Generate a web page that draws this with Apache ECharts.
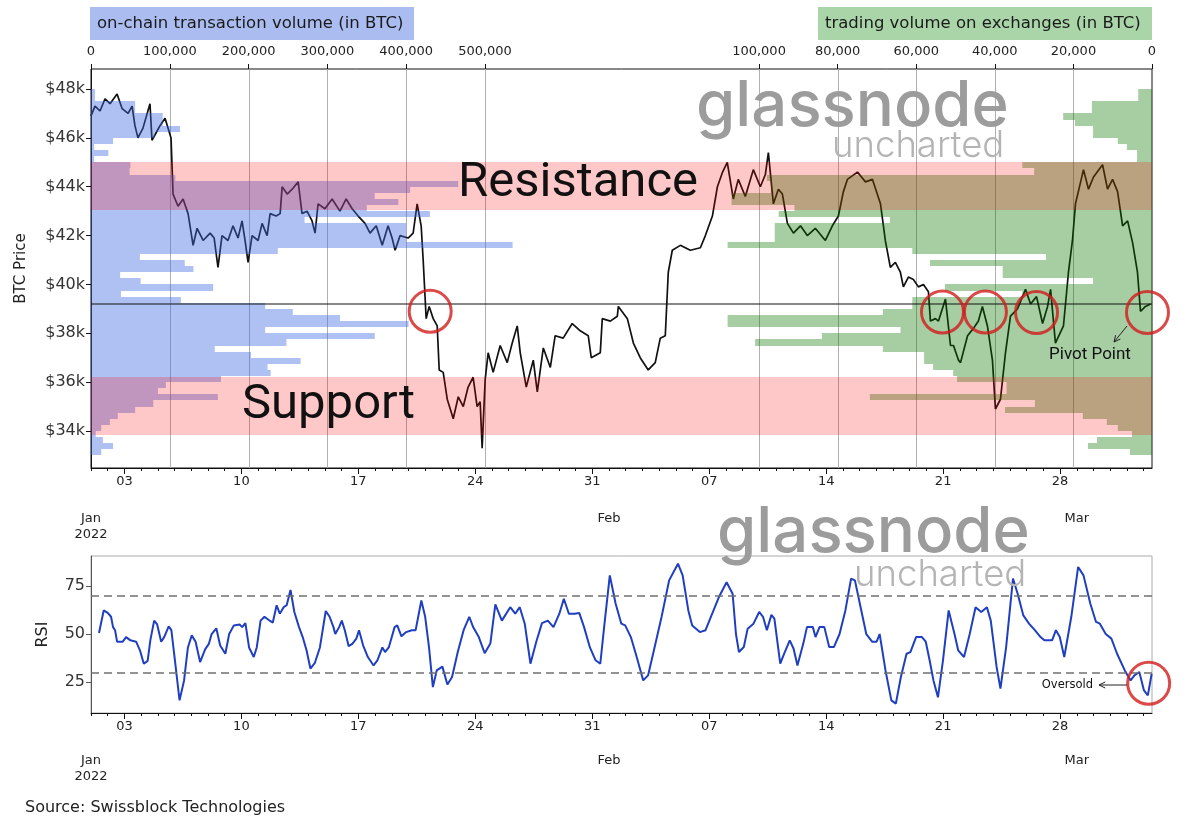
<!DOCTYPE html>
<html><head><meta charset="utf-8">
<script src="https://cdn.jsdelivr.net/npm/echarts@6/dist/echarts.min.js"></script>
<style>html,body{margin:0;padding:0;background:#fff}#c{width:1200px;height:840px}</style>
</head><body><div id="c"></div>
<script>
// ---------- data ----------
const startDate = '2022-01-01';
const weekTicks = ['2022-01-03','2022-01-10','2022-01-17','2022-01-24','2022-01-31','2022-02-07','2022-02-14','2022-02-21','2022-02-28'];
const monthTicks = ['2022-01-01','2022-02-01','2022-03-01'];
const monthLabels = ['Jan\n2022','Feb','Mar'];
const priceTicks = [34000,36000,38000,40000,42000,44000,46000,48000];
const rsiTicks = [25,50,75];
const onchainTicks = [0,100000,200000,300000,400000,500000];
const exchangeTicks = [0,20000,40000,60000,80000,100000];

// volume profile bins, from the highest price bin downwards
const volumeBinTop = 48000;
const volumeBinSize = 250;
// on-chain transaction volume per bin (thousand BTC)
const onchainVolume = [5,5,56,56,91,91,113,81,28,4,22,4,50,49,107,466,405,360,390,350,430,271,400,400,400,535,237,62,119,130,37,63,155,38,114,221,256,316,403,221,360,248,157,203,266,224,228,165,95,85,161,79,56,34,24,13,6,15,28,13];
// trading volume on exchanges per bin (thousand BTC)
const exchangeVolume = [3.5,3.5,15.3,15.3,22.6,19.6,15,15,8.7,6.4,3.8,3.8,33,30,98,97,97,107,107,91,95,66.7,96,96,96,108,61,27,56.5,38,38,15,52.7,33,61,61,68.5,108,108,64,84,101,68.5,58,58,55.7,50.6,49.6,37,37,71.8,29.8,37.4,17.6,11.5,8.7,5.1,14,16.3,5.6];

const resistanceBand = [43050, 45000];
const supportBand = [33850, 36200];
const pivotLevel = 39200;
const rsiLevels = [70, 30];
// [days since Jan 1, price]
const pivotCircles = [[20.3,38900],[50.96,38870],[53.53,38870],[56.59,38850],[63.23,38850]];
const oversoldCircle = [[63.3,24.3]];

// BTC price: [days since Jan 1 2022, USD]
const btcPrice = [[0,46900],[0.24,47300],[0.54,47100],[0.84,47600],[1.14,47400],[1.56,47800],[1.86,47200],[2.22,47000],[2.46,47300],[2.63,46500],[2.81,46000],[3.11,46400],[3.53,47400],[3.65,45900],[3.89,46200],[4.13,46500],[4.43,46800],[4.61,46400],[4.79,46000],[4.91,43700],[5.21,43200],[5.51,43500],[5.81,42900],[6.11,41600],[6.35,42300],[6.71,41800],[7.13,42100],[7.37,41900],[7.6,40700],[7.84,42000],[8.2,41800],[8.5,42400],[8.8,41900],[9.04,42600],[9.22,41800],[9.4,40900],[9.64,42000],[10,41800],[10.24,42500],[10.54,42000],[10.72,42900],[11.08,42800],[11.32,42900],[11.44,44000],[11.74,43700],[12.04,43900],[12.4,44200],[12.63,42900],[12.93,43000],[13.23,42600],[13.41,42100],[13.59,43300],[14,43100],[14.43,43500],[14.9,43000],[15.27,43500],[15.63,43100],[15.99,42800],[16.4,42500],[16.7,42100],[17.07,42400],[17.43,41600],[17.78,42400],[18.02,41900],[18.2,41400],[18.5,42000],[18.98,41900],[19.28,42100],[19.52,43300],[19.76,42400],[19.88,41000],[20.06,38600],[20.24,39100],[20.48,38600],[20.72,38300],[20.84,36500],[21.08,36400],[21.32,35300],[21.68,34500],[21.98,35400],[22.28,35000],[22.57,35800],[22.87,36200],[23.11,35000],[23.29,35200],[23.41,33300],[23.59,36100],[23.77,37200],[24.07,36400],[24.49,37500],[24.91,36800],[25.21,37600],[25.51,38300],[25.69,37200],[26.05,35800],[26.47,36900],[26.71,35600],[27.07,37400],[27.49,36600],[27.78,37900],[28.26,37800],[28.8,38400],[29.28,38100],[29.76,37900],[29.94,37000],[30.48,37200],[30.6,38600],[31.08,38500],[31.5,38700],[31.56,39100],[32.1,38600],[32.46,37600],[32.87,37000],[33.35,36500],[33.77,36800],[34.07,37800],[34.37,37900],[34.55,40500],[34.79,41400],[35.27,41600],[35.87,41400],[36.47,41500],[36.77,42000],[37.19,42800],[37.49,44000],[37.8,44600],[38.08,45000],[38.44,43500],[38.74,44300],[39.16,43600],[39.64,44700],[40.06,44000],[40.36,44500],[40.54,45400],[40.84,43300],[41.14,43900],[41.38,43700],[41.68,42500],[42.04,42100],[42.46,42400],[42.87,42000],[43.35,42300],[43.95,41800],[44.37,42400],[44.73,42800],[45.03,43800],[45.27,44300],[45.87,44600],[46.35,44200],[46.77,44300],[47.25,43300],[47.54,41800],[47.84,40700],[48.14,40900],[48.44,40500],[48.62,39900],[48.92,40300],[49.22,40200],[49.52,39900],[49.82,40000],[50.12,39700],[50.24,38500],[50.54,38600],[50.72,38500],[51.14,39400],[51.44,37500],[51.62,37500],[51.92,36900],[52.04,36800],[52.46,37900],[52.81,38200],[53.11,38500],[53.35,39100],[53.65,38300],[53.95,36900],[54.13,34900],[54.43,35300],[54.73,37200],[55.03,38700],[55.45,39000],[55.93,39800],[56.23,39200],[56.59,39500],[56.95,38400],[57.25,39100],[57.43,39800],[57.72,37600],[58.2,38300],[58.5,40500],[58.74,41800],[58.92,43300],[59.4,44700],[59.7,43900],[60,44400],[60.54,44900],[60.84,43900],[61.14,44300],[61.44,43800],[61.74,42400],[62.04,42600],[62.34,41700],[62.63,40500],[62.81,38900],[63.11,39100],[63.41,39200]];

// RSI: [days since Jan 1 2022, value]
const rsiValues = [[0.48,50.5],[0.76,62.3],[1.0,61],[1.2,59],[1.32,53.6],[1.44,52],[1.56,46],[1.9,46],[2.1,48.4],[2.36,46.7],[2.7,46],[2.93,41.5],[3.16,34.5],[3.39,36],[3.55,46.7],[3.78,57],[3.96,55],[4.2,46],[4.38,48.4],[4.65,54],[4.81,52],[5.0,38],[5.3,15.4],[5.57,25.8],[5.8,43],[6.03,49.3],[6.26,46],[6.53,35.4],[6.83,42],[7.06,45],[7.22,50],[7.5,53],[7.73,44],[8.04,39.7],[8.27,50],[8.55,54.5],[8.89,55],[9.05,53.6],[9.24,55.7],[9.46,43],[9.74,38],[9.92,43],[10.15,57],[10.38,59],[10.72,56.8],[10.88,56],[11.11,65],[11.3,60.6],[11.53,64],[11.71,65],[11.94,73],[12.17,61.5],[12.45,53.6],[12.67,48.4],[12.9,41.5],[13.13,32],[13.4,35],[13.7,43],[14.05,62],[14.28,59],[14.51,53.6],[14.62,50],[14.85,53.6],[15.01,57],[15.19,52],[15.42,43.6],[15.65,45],[15.88,47.6],[16.04,52],[16.29,44],[16.57,38],[16.91,33.6],[17.14,36.3],[17.44,43],[17.6,40.6],[17.83,43.2],[18.17,53.6],[18.33,54.5],[18.58,48.8],[18.86,51],[19.2,52],[19.43,52],[19.77,67.5],[20.0,59],[20.23,43],[20.46,22.3],[20.69,31],[21.03,33],[21.33,23.7],[21.61,27.6],[21.95,40.6],[22.3,52],[22.64,59],[22.87,53.6],[23.21,48.4],[23.56,40],[23.9,45],[24.2,65.5],[24.59,57],[25.09,64],[25.39,60.6],[25.66,64],[25.96,55.4],[26.3,34.5],[26.65,46],[26.99,55.7],[27.34,57],[27.68,53.6],[28.03,60.6],[28.3,68.4],[28.6,60.6],[28.94,60.6],[29.22,61],[29.51,53.6],[29.86,43],[30.2,36.3],[30.48,34.5],[30.71,53.6],[31.05,80.6],[31.4,65.8],[31.74,55.4],[31.97,54.5],[32.31,48.4],[32.66,38],[33.05,25.8],[33.34,28.4],[33.69,41.5],[34.15,59],[34.6,78],[35.13,86.7],[35.41,80.6],[35.75,62.3],[35.98,54.5],[36.44,51],[36.78,52],[37.1,59],[37.58,69.3],[38.04,77],[38.4,71],[38.6,50],[38.78,40.6],[39.07,43.2],[39.3,52.8],[39.65,55.4],[39.99,61.5],[40.22,59],[40.45,52],[40.72,60],[40.9,58],[41.25,34.5],[41.48,39.7],[41.82,46.7],[42.05,42.3],[42.28,33.6],[42.63,45],[42.85,53.6],[43.2,53.6],[43.36,48.4],[43.6,53.6],[43.89,53.6],[44.18,43.2],[44.46,43.2],[44.8,50],[45.15,62.3],[45.49,78.9],[45.72,78],[46.06,64],[46.4,50],[46.75,46],[47.02,46],[47.2,50],[47.55,31],[47.9,15.4],[48.17,13.7],[48.47,27.6],[48.81,39.7],[49.04,40.6],[49.38,48.4],[49.73,48.4],[49.96,46],[50.19,36.3],[50.42,25.8],[50.69,17],[50.99,36.3],[51.33,62.3],[51.68,50],[51.9,41.5],[52.25,38],[52.59,50],[52.94,64],[53.28,61.5],[53.62,64],[53.85,57],[54.2,32.8],[54.43,21.5],[54.77,43.2],[55.18,78.9],[55.46,71],[55.8,59.7],[56.14,55.4],[56.49,52],[56.83,48.4],[57.06,46.7],[57.52,46.7],[57.75,52],[57.98,48.4],[58.25,38],[58.67,59],[59.08,85],[59.4,80.6],[59.81,65.8],[60.15,56.3],[60.38,55.4],[60.73,50],[61.07,47.6],[61.41,39.7],[61.87,31],[62.22,25.8],[62.45,28.4],[62.74,30.2],[63.02,20.6],[63.25,18],[63.48,29.3]];

// ---------- chart ----------
const T0 = Date.parse(startDate);
const DAY = 86400000;
const t = d => T0 + d * DAY;
const xMin = t(0), xMax = t(63.5);
const yMin = 32485, yMax = 48820;
const weekVals = weekTicks.map(s => Date.parse(s));
const monthVals = monthTicks.map(s => Date.parse(s));
const dayVals = Array.from({length: 64}, (_, i) => t(i));
const FONT = 'DejaVu Sans';
const dd = v => String(new Date(v).getUTCDate()).padStart(2, '0');
const monthFmt = v => { const i = monthVals.indexOf(v); return i >= 0 ? monthLabels[i] : ''; };
const fmtNum = v => v.toLocaleString('en-US');

const blueData = onchainVolume.map((v, i) => [v * 1000, volumeBinTop - i * volumeBinSize, volumeBinTop - (i + 1) * volumeBinSize]);
const greenData = exchangeVolume.map((v, i) => [v * 1000, volumeBinTop - i * volumeBinSize, volumeBinTop - (i + 1) * volumeBinSize]);

function histRender(fill) {
  return function (params, api) {
    const p0 = api.coord([0, api.value(1)]);
    const p1 = api.coord([api.value(0), api.value(2)]);
    const y0 = Math.round(p0[1]), y1 = Math.round(p1[1]);
    return {type: 'rect', shape: {x: Math.min(p0[0], p1[0]), y: y0, width: Math.abs(p1[0] - p0[0]), height: y1 - y0}, style: {fill: fill}};
  };
}
function gridRender(params, api) {
  const cs = params.coordSys;
  const x = Math.round(api.coord([api.value(0), yMin])[0]) + 0.5;
  return {type: 'line', shape: {x1: x, y1: cs.y, x2: x, y2: cs.y + cs.height}, style: {stroke: '#b0b0b0', lineWidth: 1}};
}
function bandRender(params, api) {
  const cs = params.coordSys;
  const yTop = Math.round(api.coord([xMin, api.value(2)])[1]);
  const yBot = Math.round(api.coord([xMin, api.value(1)])[1]);
  return {type: 'rect', shape: {x: cs.x, y: yTop, width: cs.width, height: yBot - yTop}, style: {fill: 'rgba(255,0,0,0.215)'}};
}
function hlineRender(params, api) {
  const cs = params.coordSys;
  const y = api.coord([xMin, api.value(1)])[1];
  return {type: 'line', shape: {x1: cs.x, y1: y, x2: cs.x + cs.width, y2: y}, style: {stroke: '#111', lineWidth: 1.2}};
}

function weekAxis(gridIndex, margin) {
  return {gridIndex, type: 'value', min: xMin, max: xMax, position: 'bottom',
    axisLine: {show: true, lineStyle: {color: '#111', width: 1}},
    axisTick: {show: true, customValues: weekVals, length: 6, lineStyle: {color: '#111'}},
    axisLabel: {customValues: weekVals, formatter: dd, fontSize: 13, color: '#222', fontFamily: FONT, margin: margin},
    splitLine: {show: false}};
}
function monthAxis(gridIndex, margin) {
  return {gridIndex, type: 'value', min: xMin, max: xMax, position: 'bottom',
    axisLine: {show: false},
    axisTick: {show: true, customValues: dayVals, length: 3, lineStyle: {color: '#111'}},
    axisLabel: {customValues: monthVals, formatter: monthFmt, fontSize: 13, color: '#222', fontFamily: FONT, margin: margin, lineHeight: 16},
    splitLine: {show: false}};
}

function arrowPts(x1, y1, x2, y2) {
  const a = Math.atan2(y2 - y1, x2 - x1), L = 7, w = 0.45;
  return [[x2 - L * Math.cos(a - w), y2 - L * Math.sin(a - w)], [x2, y2], [x2 - L * Math.cos(a + w), y2 - L * Math.sin(a + w)]];
}

const circleStyle = {color: 'rgba(0,0,0,0)', borderColor: '#d21c1c', borderWidth: 3};

const chart = echarts.init(document.getElementById('c'), null, {renderer: 'canvas'});
chart.setOption({
  animation: false,
  backgroundColor: '#fff',
  grid: [
    {left: 91, top: 69, width: 1061, height: 399, show: true, borderColor: '#111', borderWidth: 1, backgroundColor: 'transparent'},
    {left: 91, top: 556, width: 1061, height: 157, show: true, borderColor: '#aaa', borderWidth: 1, backgroundColor: 'transparent'}
  ],
  xAxis: [
    weekAxis(0, 7),
    monthAxis(0, 43),
    {gridIndex: 0, type: 'value', position: 'top', min: 0, max: 1346400,
      axisLine: {show: false}, axisTick: {show: true, customValues: onchainTicks, length: 5, lineStyle: {color: '#111'}},
      axisLabel: {customValues: onchainTicks, formatter: fmtNum, fontSize: 13, color: '#222', fontFamily: FONT, margin: 11},
      splitLine: {show: false}},
    {gridIndex: 0, type: 'value', position: 'top', inverse: true, min: 0, max: 270000,
      axisLine: {show: false}, axisTick: {show: true, customValues: exchangeTicks, length: 5, lineStyle: {color: '#111'}},
      axisLabel: {customValues: exchangeTicks, formatter: fmtNum, fontSize: 13, color: '#222', fontFamily: FONT, margin: 11},
      splitLine: {show: false}},
    weekAxis(1, 7),
    monthAxis(1, 40)
  ],
  yAxis: [
    {gridIndex: 0, type: 'value', min: yMin, max: yMax,
      axisLine: {show: true, lineStyle: {color: '#111'}},
      axisTick: {show: true, customValues: priceTicks, length: 5, lineStyle: {color: '#111'}},
      axisLabel: {customValues: priceTicks, formatter: v => '$' + (v / 1000) + 'k', fontSize: 16, color: '#333', fontFamily: FONT, margin: 6},
      splitLine: {show: false},
      name: 'BTC Price', nameLocation: 'middle', nameGap: 62, nameRotate: 90,
      nameTextStyle: {fontSize: 15, color: '#222', fontFamily: FONT}},
    {gridIndex: 1, type: 'value', min: 8.8, max: 90.7,
      axisLine: {show: true, lineStyle: {color: '#555'}},
      axisTick: {show: true, customValues: rsiTicks, length: 5, lineStyle: {color: '#555'}},
      axisLabel: {customValues: rsiTicks, fontSize: 16, color: '#333', fontFamily: FONT, margin: 6},
      splitLine: {show: false},
      name: 'RSI', nameLocation: 'middle', nameGap: 40, nameRotate: 90,
      nameTextStyle: {fontSize: 16, color: '#222', fontFamily: FONT}}
  ],
  series: [
    {type: 'custom', name: 'grid-left', xAxisIndex: 2, yAxisIndex: 0, z: 1, silent: true,
      data: onchainTicks.filter(v => v > 0).map(v => [v, yMin]), encode: {x: 0, y: 1}, renderItem: gridRender},
    {type: 'custom', name: 'grid-right', xAxisIndex: 3, yAxisIndex: 0, z: 1, silent: true,
      data: exchangeTicks.filter(v => v > 0).map(v => [v, yMin]), encode: {x: 0, y: 1}, renderItem: gridRender},
    {type: 'line', name: 'BTC Price', xAxisIndex: 0, yAxisIndex: 0, z: 2, showSymbol: false, silent: true,
      data: btcPrice.map(p => [t(p[0]), p[1]]), lineStyle: {color: '#111', width: 1.7}},
    {type: 'custom', name: 'on-chain volume', xAxisIndex: 2, yAxisIndex: 0, z: 3, silent: true,
      data: blueData, encode: {x: 0, y: [1, 2]}, renderItem: histRender('rgba(65,105,225,0.42)')},
    {type: 'custom', name: 'exchange volume', xAxisIndex: 3, yAxisIndex: 0, z: 3, silent: true,
      data: greenData, encode: {x: 0, y: [1, 2]}, renderItem: histRender('rgba(10,120,0,0.36)')},
    {type: 'custom', name: 'bands', xAxisIndex: 0, yAxisIndex: 0, z: 4, silent: true,
      data: [[xMin, resistanceBand[0], resistanceBand[1]], [xMin, supportBand[0], supportBand[1]]],
      encode: {x: 0, y: [1, 2]}, renderItem: bandRender},
    {type: 'custom', name: 'pivot', xAxisIndex: 0, yAxisIndex: 0, z: 5, silent: true,
      data: [[xMin, pivotLevel]], encode: {x: 0, y: 1}, renderItem: hlineRender},
    {type: 'scatter', name: 'circles', xAxisIndex: 0, yAxisIndex: 0, z: 6, silent: true,
      data: pivotCircles.map(p => [t(p[0]), p[1]]), symbol: 'circle', symbolSize: 42, itemStyle: circleStyle},
    {type: 'line', name: 'RSI', xAxisIndex: 4, yAxisIndex: 1, z: 3, showSymbol: false, silent: true,
      data: rsiValues.map(p => [t(p[0]), p[1]]), lineStyle: {color: '#1f3fc0', width: 2},
      markLine: {symbol: 'none', silent: true, label: {show: false}, lineStyle: {type: [8, 5], color: '#707070', width: 1.6},
        data: rsiLevels.map(v => ({yAxis: v}))}},
    {type: 'scatter', name: 'oversold', xAxisIndex: 4, yAxisIndex: 1, z: 6, silent: true,
      data: oversoldCircle.map(p => [t(p[0]), p[1]]), symbol: 'circle', symbolSize: 42, itemStyle: circleStyle}
  ],
  graphic: [
    {type: 'rect', shape: {x: 90, y: 7, width: 324, height: 33}, style: {fill: '#abbdf0'}, z: 50},
    {type: 'text', x: 97, y: 23.5, z: 51, style: {text: 'on-chain transaction volume (in BTC)', fontSize: 16.5, fontFamily: FONT, fill: '#1a1a1a', verticalAlign: 'middle'}},
    {type: 'rect', shape: {x: 818, y: 7, width: 334, height: 33}, style: {fill: '#aad5a8'}, z: 50},
    {type: 'text', x: 825, y: 23.5, z: 51, style: {text: 'trading volume on exchanges (in BTC)', fontSize: 16.5, fontFamily: FONT, fill: '#1a1a1a', verticalAlign: 'middle'}},
    {type: 'text', x: 696, y: 107, z: 40, style: {text: 'glassnode', fontSize: 63.5, fontFamily: 'Inter', fontWeight: 500, fill: '#9c9c9c', verticalAlign: 'middle'}},
    {type: 'text', x: 832, y: 146, z: 40, style: {text: 'uncharted', fontSize: 36.5, fontFamily: 'Inter', fontWeight: 300, fill: '#b4b4b4', verticalAlign: 'middle'}},
    {type: 'text', x: 717, y: 533, z: 40, style: {text: 'glassnode', fontSize: 63.5, fontFamily: 'Inter', fontWeight: 500, fill: '#9c9c9c', verticalAlign: 'middle'}},
    {type: 'text', x: 854, y: 575, z: 40, style: {text: 'uncharted', fontSize: 36.5, fontFamily: 'Inter', fontWeight: 300, fill: '#b4b4b4', verticalAlign: 'middle'}},
    {type: 'text', x: 458, y: 184, z: 60, style: {text: 'Resistance', fontSize: 49, fontFamily: 'Roboto', fill: '#111', verticalAlign: 'middle'}},
    {type: 'text', x: 242, y: 406, z: 60, style: {text: 'Support', fontSize: 49, fontFamily: 'Roboto', fill: '#111', verticalAlign: 'middle'}},
    {type: 'text', x: 1090, y: 355, z: 60, style: {text: 'Pivot Point', fontSize: 17, fontFamily: 'Roboto', fill: '#111', align: 'center', verticalAlign: 'middle'}},
    {type: 'polyline', z: 60, shape: {points: [[1127, 326], [1114, 342]]}, style: {stroke: '#222', lineWidth: 1}},
    {type: 'polyline', z: 60, shape: {points: arrowPts(1127, 326, 1114, 342)}, style: {stroke: '#222', lineWidth: 1, fill: null}},
    {type: 'text', x: 1093, y: 685, z: 60, style: {text: 'Oversold', fontSize: 11.5, fontFamily: FONT, fill: '#111', align: 'right', verticalAlign: 'middle'}},
    {type: 'polyline', z: 60, shape: {points: [[1127, 685], [1099, 685]]}, style: {stroke: '#222', lineWidth: 1}},
    {type: 'polyline', z: 60, shape: {points: arrowPts(1127, 685, 1099, 685)}, style: {stroke: '#222', lineWidth: 1, fill: null}},
    {type: 'text', x: 25, y: 808, z: 60, style: {text: 'Source: Swissblock Technologies', fontSize: 16, fontFamily: FONT, fill: '#222', verticalAlign: 'middle'}}
  ]
});
</script>
</body></html>
